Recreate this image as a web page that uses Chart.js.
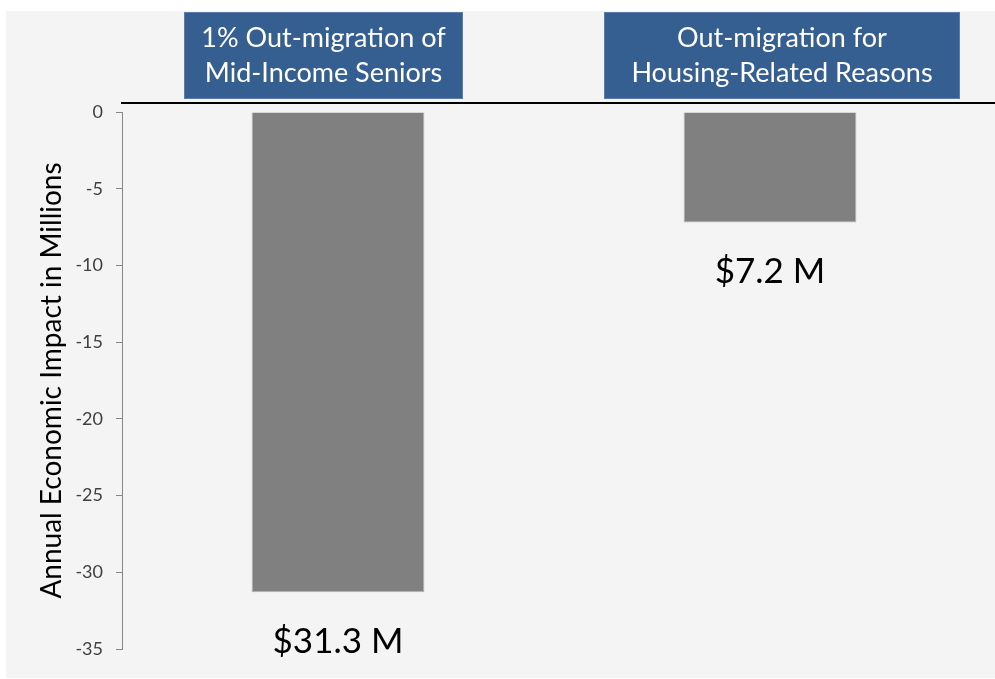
<html lang="eng">
<head>
    <title>Out-migration economic impact</title>
    <style>
        body { margin: 0; background: #ffffff; }
        canvas { display: block; }
    </style>
</head>

<body>
    <!--    Chart   -->
    <canvas id="impactChart" width="995" height="679"></canvas>

    <script src="https://cdn.jsdelivr.net/npm/chart.js"></script>
    <script>
        // Scenarios, one bar each (text split into lines for the header boxes)
        const scenarios = [
            ["1% Out-migration of", "Mid-Income Seniors"],
            ["Out-migration for", "Housing-Related Reasons"]
        ];
        // Annual economic impact, millions of dollars
        const impact = [-31.3, -7.2];
        const y_ticks = [0, -5, -10, -15, -20, -25, -30, -35];

        const font_family = "Lato, 'DejaVu Sans', sans-serif";

        /**
         * Grey panel behind the chart
         */
        const panelPlugin = {
            id: 'panel',
            beforeDraw(chart) {
                const ctx = chart.ctx;
                ctx.save();
                ctx.fillStyle = '#ffffff';
                ctx.fillRect(0, 0, chart.width, chart.height);
                ctx.fillStyle = '#f4f4f4';
                ctx.fillRect(6, 11, chart.width - 6, chart.height - 12);
                ctx.restore();
            }
        };

        /**
         * Black rule above the zero line and the blue scenario boxes
         */
        const headerPlugin = {
            id: 'header',
            afterDraw(chart) {
                const ctx = chart.ctx;
                const area = chart.chartArea;
                const x = chart.scales.x;
                // box placement relative to each bar centre: [offset, width]
                const boxes = [[-14.5, 279], [12, 356]];

                ctx.save();
                ctx.strokeStyle = '#000000';
                ctx.lineWidth = 2;
                ctx.beginPath();
                ctx.moveTo(area.left - 1, area.top - 9);
                ctx.lineTo(chart.width, area.top - 9);
                ctx.stroke();

                ctx.font = "27px " + font_family;
                ctx.textAlign = 'center';
                ctx.textBaseline = 'alphabetic';
                for (var i = 0; i < scenarios.length; i++) {
                    const cx = x.getPixelForValue(i) + boxes[i][0];
                    const w = boxes[i][1];
                    ctx.fillStyle = '#365f91';
                    ctx.fillRect(cx - w / 2, 12, w, 87);
                    ctx.strokeStyle = '#5a7dab';
                    ctx.lineWidth = 1;
                    ctx.strokeRect(cx - w / 2 + 0.5, 12.5, w - 1, 86);
                    ctx.fillStyle = '#ffffff';
                    ctx.fillText(scenarios[i][0], cx, 47);
                    ctx.fillText(scenarios[i][1], cx, 82);
                }
                ctx.restore();
            }
        };

        /**
         * Dollar amount written under each bar
         */
        const valueLabelPlugin = {
            id: 'valueLabels',
            afterDatasetsDraw(chart) {
                const ctx = chart.ctx;
                const meta = chart.getDatasetMeta(0);
                ctx.save();
                ctx.font = "35px " + font_family;
                ctx.fillStyle = '#000000';
                ctx.textAlign = 'center';
                ctx.textBaseline = 'alphabetic';
                meta.data.forEach(function (bar, i) {
                    const text = "$" + Math.abs(impact[i]).toFixed(1) + " M";
                    ctx.fillText(text, bar.x, bar.y + 61);
                });
                ctx.restore();
            }
        };

        const impact_c = document.getElementById('impactChart');
        const impactChart = new Chart(impact_c, {
            type: 'bar',
            data: {
                labels: scenarios.map(function (s) { return s.join(' '); }),
                datasets: [{
                    label: 'Annual Economic Impact',
                    data: impact,
                    backgroundColor: '#808080',
                    borderColor: '#b4b4b4',
                    borderWidth: 1,
                    barPercentage: 0.4,
                    categoryPercentage: 1.0
                }]
            },
            options: {
                responsive: false,
                animation: false,
                layout: {
                    padding: {left: 30, right: 9, top: 112, bottom: 30}
                },
                plugins: {
                    legend: {display: false},
                    tooltip: {enabled: false}
                },
                scales: {
                    x: {
                        display: false
                    },
                    y: {
                        min: -35,
                        max: 0,
                        afterBuildTicks: function (axis) {
                            axis.ticks = y_ticks.map(function (v) { return {value: v}; });
                        },
                        afterFit: function (axis) {
                            axis.width = 92;
                        },
                        grid: {
                            drawOnChartArea: false,
                            tickLength: 6,
                            color: '#868686'
                        },
                        border: {
                            color: '#868686'
                        },
                        ticks: {
                            padding: 13,
                            color: '#404040',
                            font: {family: font_family, size: 18}
                        },
                        title: {
                            display: true,
                            text: 'Annual Economic Impact in Millions',
                            color: '#000000',
                            padding: {top: 5, bottom: 0},
                            font: {family: font_family, size: 28}
                        }
                    }
                }
            },
            plugins: [panelPlugin, headerPlugin, valueLabelPlugin]
        });
    </script>
</body>
</html>
